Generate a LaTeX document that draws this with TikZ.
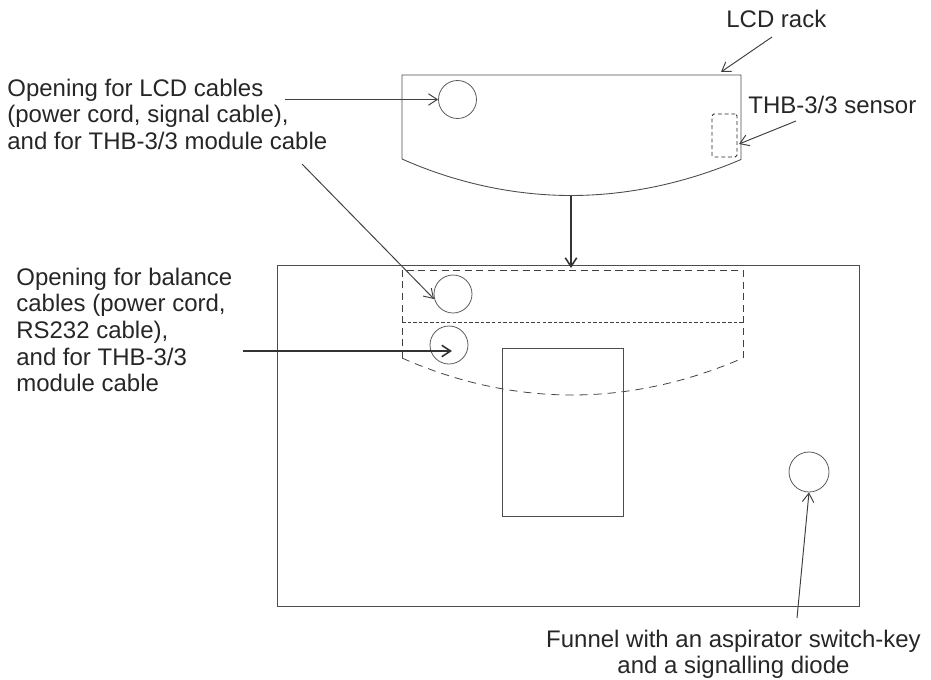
\documentclass[tikz,border=0pt]{standalone}
\usepackage{fontspec}
\setmainfont{Liberation Sans}
\usetikzlibrary{arrows.meta,positioning}

\begin{document}
\begin{tikzpicture}[
    x=0.02cm, y=-0.02cm,
    outline/.style={draw=black!70, line width=0.5pt},
    hole/.style={circle, draw=black!65, line width=0.45pt, minimum size=0.76cm, inner sep=0pt},
    hidden/.style={draw=black!75, line width=0.45pt, dash pattern=on 4pt off 2.6pt},
    arr/.style={-{Straight Barb[length=5pt,width=6.5pt]}, line width=0.55pt, color=black!75},
    heavyarr/.style={-{Straight Barb[length=5pt,width=6.5pt]}, line width=0.9pt, color=black!80},
    note/.style={font=\fontsize{13.65}{15.2}\selectfont, text=black!85, inner sep=0pt, align=left},
  ]
    \useasboundingbox (0,0) rectangle (931,680);

    % LCD rack
    \draw[outline] (402,159) -- (402,75) -- (741,75) -- (741,159.5)
      .. controls (686,183) and (628,195.5) .. (571,195.5)
      .. controls (514,195.5) and (456,183) .. (402,159);
    \coordinate (racktop) at (721,72);
    \coordinate (rackbottom) at (571,195.5);
    \node[hole] (lcdhole) at (457.5,99.5) {};
    \node[draw=black!85, line width=0.45pt, dash pattern=on 2.2pt off 1.6pt, rounded corners=1pt, minimum width=0.5cm, minimum height=0.86cm, inner sep=0pt] (sensor) at (724.5,135.5) {};

    % Base
    \node[outline, minimum width=11.64cm, minimum height=6.82cm, inner sep=0pt] (base) at (568,436) {};
    \draw[hidden] (402,358) -- (402,270) -- (743,270) -- (743,358);
    \draw[hidden, dash pattern=on 4.6pt off 3.4pt] (402,358)
      .. controls (456,382) and (514,395) .. (572,395)
      .. controls (630,395) and (688,382) .. (743,358);
    \draw[hidden, dash pattern=on 2pt off 1.2pt] (402,322) -- (743,322);
    \node[hole] (balancehole) at (453,294) {};
    \node[hole] (modulehole) at (449,345) {};
    \node[outline, minimum width=2.42cm, minimum height=3.36cm, inner sep=0pt] (window) at (562.5,432) {};
    \node[hole, minimum size=0.8cm] (funnel) at (809,472) {};

    % Labels
    \node[note, anchor=north west] (racklabel) at (726,9.6) {LCD rack};
    \node[note, anchor=north west] (sensorlabel) at (748,95.6) {THB-3/3 sensor};
    \node[note, anchor=north west] (lcdlabel) at (7,78.4) {Opening for LCD cables\\(power cord, signal cable),\\and for THB-3/3 module cable};
    \node[note, anchor=north west] (balancelabel) at (16,267.4) {Opening for balance\\cables (power cord,\\RS232 cable),\\and for THB-3/3\\module cable};
    \node[note, align=center, anchor=north] (funnellabel) at (733.5,629.4) {Funnel with an aspirator switch-key\\and a signalling diode};

    % Free ends
    \coordinate (lcdstart) at (285,99.5);
    \coordinate (balancestart) at (302,164);
    \coordinate (balanceend) at (434,299);
    \coordinate (modulestart) at (243,351);
    \coordinate (moduleend) at (452,351);
    \coordinate (rackstart) at (772,37);
    \coordinate (sensorstart) at (796,121);
    \coordinate (sensorend) at (739,144);
    \coordinate (funnelstart) at (797,618);
    \coordinate (basetop) at (571,268);

    % Arrows
    \draw[arr] (rackstart) -- (racktop);
    \draw[arr] (sensorstart) -- (sensorend);
    \draw[arr] (lcdstart) -- (lcdhole.west);
    \draw[arr] (balancestart) -- (balanceend);
    \draw[heavyarr] (modulestart) -- (moduleend);
    \draw[arr] (funnelstart) -- (funnel.south);
    \draw[heavyarr] (rackbottom) -- (basetop);
\end{tikzpicture}
\end{document}
